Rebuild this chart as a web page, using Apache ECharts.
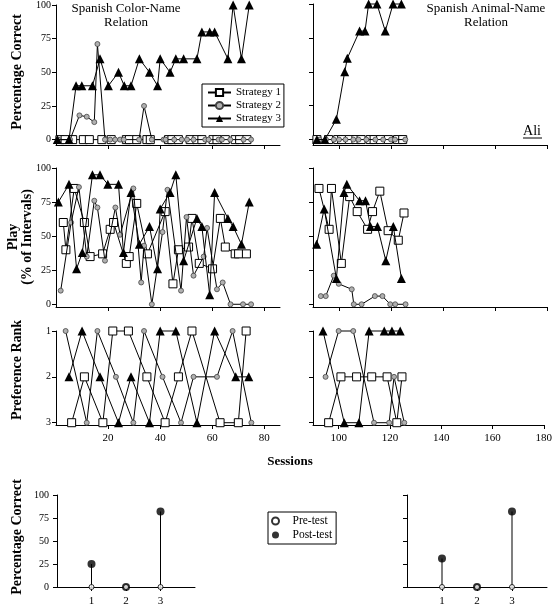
<!DOCTYPE html>
<html><head><meta charset="utf-8">
<script src="https://cdn.jsdelivr.net/npm/echarts@6/dist/echarts.min.js"></script>
<style>html,body{margin:0;padding:0;background:#fff}#c{width:555px;height:607px}</style>
</head><body><div id="c"></div>
<script>
// ---------- DATA ----------
const sessionTicksLeft = [20, 40, 60, 80];
const sessionTicksRight = [100, 120, 140, 160, 180];
const pctTicks = [0, 25, 50, 75, 100];
const rankTicks = [1, 2, 3];
const testTicks = [1, 2, 3];

// Percentage correct – Color-Name (sessions, %)
const colorS1 = [[1.5,0],[3.5,0],[6.4,0],[10.5,0],[12.8,0],[17.6,0],[21.2,0],[27,0],[28.2,0],[31,0],[34.9,0],[36.2,0],[43.2,0],[44.5,0],[47,0],[51.5,0],[54.1,0],[56,0],[60.3,0],[61.8,0],[65,0],[68.8,0],[70.5,0],[73.3,0]];
const colorS2 = [[1,0],[5.4,0],[9,18],[11.8,17],[14.7,13],[15.9,71],[18.8,0],[20.8,0],[22.7,0],[24.6,0],[26,0],[31.9,0],[33.8,25],[36.8,0],[41.3,0],[42,0],[45.4,0],[48.3,0],[50.3,0],[52.8,0],[57.3,0],[58.6,0],[62.4,0],[63.7,0],[66.9,0],[72,0],[74.9,0]];
const colorS3 = [[0.5,0],[5,0],[7.7,40],[9.9,40],[14,40],[16.9,60],[20.1,40],[24,50],[26.2,40],[28.8,40],[32,60],[35.9,50],[39,40],[40,60],[43.8,50],[46,60],[49,60],[54.1,60],[56,80],[59,80],[60.9,80],[66,60],[68,100],[71.2,60],[74.2,100]];
// Percentage correct – Animal-Name
const animalS1 = [[91.5,0],[96,0],[99.5,0],[101,0],[104,0],[106.5,0],[108.5,0],[112,0],[113.5,0],[116,0],[119,0],[122.5,0],[124.5,0]];
const animalS2 = [[92.5,0],[95,0],[98,0],[100,0],[102.5,0],[105.5,0],[107.5,0],[110.5,0],[114,0],[117,0],[120,0],[121.5,0],[125.5,0]];
const animalS3 = [[91.5,0],[94.6,0],[99,15],[102.2,50],[103.2,60],[107.9,80],[110,80],[111.4,100],[114.6,100],[117.8,80],[120.8,100],[124,100]];

// Play (% of intervals)
const playColorS1 = [[2.8,60],[3.8,40],[7,85],[10.9,60],[13.1,35],[17.9,37],[20.8,55],[22.1,60],[27,30],[28.1,35],[31,74],[35.1,37],[41.9,68],[44.9,15],[47,40],[50.9,42],[52.2,63],[55,30],[60.1,26],[63.1,63],[65,42],[68.8,37],[70.1,37],[73.1,37]];
const playColorS2 = [[1.8,10],[5.8,60],[8.8,86],[11.8,35],[14.7,76],[15.9,71],[18.8,32],[22.8,71],[24.6,51],[29.7,85],[32.7,16],[33.8,43],[36.8,0],[40.9,53],[42.8,84],[48,10],[50.1,64],[52.8,21],[56.7,35],[58,56],[61.8,11],[64,16],[67,0],[71.8,0],[74.9,0]];
const playColorS3 = [[0.9,75],[5,88],[7.9,26],[10.1,38],[14,95],[16.9,95],[19.9,88],[24,88],[25.9,38],[28.8,82],[32,44],[35.9,57],[39,26],[40,70],[43.8,82],[46,95],[49,32],[54.1,63],[56,57],[59,7],[60.9,82],[66,63],[68,57],[71.2,44],[74.2,75]];
const playAnimalS1 = [[92.3,85],[96.2,55],[97.1,85],[100.9,30],[104.1,79],[107,68],[111,55],[112.9,68],[115.7,83],[118.9,54],[122.8,47],[125,67]];
const playAnimalS2 = [[93,6],[94.9,6],[98,21],[99.9,15],[104.9,11],[105.7,0],[108.7,0],[113.8,6],[116.7,6],[119.7,0],[121.6,0],[125.6,0]];
const playAnimalS3 = [[91.4,44],[94.3,70],[99,19],[101.9,82],[103,88],[107.9,76],[110.2,76],[112.1,57],[114.8,57],[118,32],[120.9,57],[124,19]];

// Preference rank
const rankColorS1 = [[6,3],[10.9,2],[18,3],[21.8,1],[27.8,1],[34.9,2],[41.9,3],[47,2],[52.2,1],[63,3],[70,3],[73,1]];
const rankColorS2 = [[3.7,1],[11.8,3],[15.9,1],[23,2],[29.7,3],[33.8,1],[40.9,2],[48,3],[52.8,2],[61.8,2],[67.8,1],[75,3]];
const rankColorS3 = [[5,2],[10,1],[16.9,2],[24,3],[28.8,2],[35.9,3],[40,1],[46,1],[54.1,3],[60.9,1],[69,2],[74,2]];
const rankAnimalS1 = [[96.1,3],[100.9,2],[107,2],[112.9,2],[118.9,2],[122.7,3],[124.7,2]];
const rankAnimalS2 = [[94.9,2],[100,1],[105.7,1],[113.8,3],[119.7,3],[121.6,2],[125.6,3]];
const rankAnimalS3 = [[93.9,1],[102.2,3],[107.9,3],[111.9,1],[117.8,1],[120.8,1],[124,1]];

// Pre/post tests (% correct) for tests 1-3
const testNumbers = [1, 2, 3];
const preColor = [0, 0, 0];
const postColor = [25, 0, 82];
const preAnimal = [0, 0, 0];
const postAnimal = [31, 0, 82];

// ---------- CHART ----------
const FONT = '"Liberation Serif", "DejaVu Serif", serif';
const chart = echarts.init(document.getElementById('c'));

const grids = [
  {left: 56, top: 4, width: 224, height: 141},
  {left: 313, top: 4, width: 234, height: 141},
  {left: 56, top: 168, width: 224, height: 139},
  {left: 313, top: 168, width: 234, height: 139},
  {left: 56, top: 331, width: 224, height: 94},
  {left: 313, top: 331, width: 234, height: 94},
  {left: 57, top: 495, width: 138, height: 93},
  {left: 407, top: 495, width: 140, height: 93}
];

const axLine = {show: true, onZero: false, lineStyle: {color: '#000', width: 1}};
function xAx(i, min, max, ticks, showLabels) {
  return {type: 'value', gridIndex: i, min: min, max: max, splitLine: {show: false},
    axisLine: axLine,
    axisTick: {show: true, length: 4, customValues: ticks, lineStyle: {color: '#000'}},
    axisLabel: {show: showLabels, customValues: ticks, margin: 8, fontFamily: FONT, fontSize: 11, color: '#000'}};
}
function yAx(i, min, max, ticks, showLabels, inverse) {
  return {type: 'value', gridIndex: i, min: min, max: max, inverse: !!inverse, splitLine: {show: false},
    axisLine: axLine,
    axisTick: {show: true, length: 4, customValues: ticks, lineStyle: {color: '#000'}},
    axisLabel: {show: showLabels, customValues: ticks, margin: 5, fontFamily: FONT, fontSize: 10, color: '#000'}};
}

const xAxes = [
  xAx(0, 0, 86, sessionTicksLeft, false), xAx(1, 90, 180, sessionTicksRight, false),
  xAx(2, 0, 86, sessionTicksLeft, false), xAx(3, 90, 180, sessionTicksRight, false),
  xAx(4, 0, 86, sessionTicksLeft, true), xAx(5, 90, 180, sessionTicksRight, true),
  xAx(6, 0, 4, testTicks, true), xAx(7, 0, 4, testTicks, true)
];
const yAxes = [
  yAx(0, -4, 100, pctTicks, true), yAx(1, -4, 100, pctTicks, false),
  yAx(2, -2, 100, pctTicks, true), yAx(3, -2, 100, pctTicks, false),
  yAx(4, 1, 3.05, rankTicks, true, true), yAx(5, 1, 3.05, rankTicks, false, true),
  yAx(6, 0, 100, pctTicks, true), yAx(7, 0, 100, pctTicks, false)
];
xAxes[6].axisLabel.margin = 9; xAxes[7].axisLabel.margin = 9;
yAxes[6].axisLabel.margin = 8;

const styles = {
  'Strategy 1': {symbol: 'rect', symbolSize: 8, itemStyle: {color: '#fff', borderColor: '#000', borderWidth: 1}, z: 3},
  'Strategy 2': {symbol: 'circle', symbolSize: 5, itemStyle: {color: '#b0b0b0', borderColor: '#444', borderWidth: 0.8}, z: 4},
  'Strategy 3': {symbol: 'triangle', symbolSize: 9, itemStyle: {color: '#000', borderColor: '#000', borderWidth: 0}, z: 5}
};
function ln(name, idx, data) {
  const s = styles[name];
  return {type: 'line', name: name, xAxisIndex: idx, yAxisIndex: idx, data: data,
    symbol: s.symbol, symbolSize: s.symbolSize, showSymbol: true, itemStyle: s.itemStyle,
    lineStyle: {color: '#000', width: 1}, z: s.z, clip: false, animation: false};
}

const series = [
  ln('Strategy 1', 0, colorS1), ln('Strategy 2', 0, colorS2), ln('Strategy 3', 0, colorS3),
  ln('Strategy 1', 1, animalS1), ln('Strategy 2', 1, animalS2), ln('Strategy 3', 1, animalS3),
  ln('Strategy 1', 2, playColorS1), ln('Strategy 2', 2, playColorS2), ln('Strategy 3', 2, playColorS3),
  ln('Strategy 1', 3, playAnimalS1), ln('Strategy 2', 3, playAnimalS2), ln('Strategy 3', 3, playAnimalS3),
  ln('Strategy 1', 4, rankColorS1), ln('Strategy 2', 4, rankColorS2), ln('Strategy 3', 4, rankColorS3),
  ln('Strategy 1', 5, rankAnimalS1), ln('Strategy 2', 5, rankAnimalS2), ln('Strategy 3', 5, rankAnimalS3)
];

function stemSeries(idx, pre, post) {
  const postData = testNumbers.map((t, k) => [t, post[k]]);
  const preData = testNumbers.map((t, k) => [t, pre[k]]);
  return [
    {type: 'bar', name: 'stem', xAxisIndex: idx, yAxisIndex: idx, data: postData, barWidth: 1,
      itemStyle: {color: '#000'}, animation: false, z: 1},
    {type: 'scatter', name: 'Post-test', xAxisIndex: idx, yAxisIndex: idx, data: postData, symbol: 'circle', symbolSize: 8,
      itemStyle: {color: '#000'}, z: 3, clip: false, animation: false},
    {type: 'scatter', name: 'Pre-test', xAxisIndex: idx, yAxisIndex: idx, data: preData, symbol: 'circle', symbolSize: 5,
      itemStyle: {color: '#fff', borderColor: '#000', borderWidth: 1}, z: 4, clip: false, animation: false}
  ];
}
series.push(...stemSeries(6, preColor, postColor));
series.push(...stemSeries(7, preAnimal, postAnimal));

function vtext(x, y, text, size) {
  return {type: 'text', x: x, y: y, rotation: Math.PI / 2,
    style: {text: text, font: 'bold ' + size + 'px ' + FONT, fill: '#000', align: 'center', verticalAlign: 'middle'}};
}
function htext(x, y, text, size, bold) {
  return {type: 'text', x: x, y: y,
    style: {text: text, font: (bold ? 'bold ' : '') + size + 'px ' + FONT, fill: '#000', align: 'center', verticalAlign: 'middle'}};
}

const option = {
  animation: false,
  backgroundColor: '#fff',
  grid: grids,
  xAxis: xAxes,
  yAxis: yAxes,
  legend: [
    {data: ['Strategy 1', 'Strategy 2', 'Strategy 3'], orient: 'vertical', left: 202, top: 84,
      itemWidth: 23, itemHeight: 9, itemGap: 2, padding: [3, 3, 3, 5],
      borderColor: '#000', borderWidth: 1, backgroundColor: '#fff', selectedMode: false,
      textStyle: {fontFamily: FONT, fontSize: 11, color: '#000', lineHeight: 11}},
    {data: ['Pre-test', 'Post-test'], orient: 'vertical', left: 268, top: 512,
      itemWidth: 10, itemHeight: 7, itemGap: 2, padding: [3, 4, 3, 3], icon: 'circle',
      borderColor: '#000', borderWidth: 1, backgroundColor: '#fff', selectedMode: false,
      textStyle: {fontFamily: FONT, fontSize: 11.5, color: '#000', lineHeight: 10, padding: [0, 0, 0, 7]}}
  ],
  graphic: [
    vtext(17, 72, 'Percentage Correct', 14),
    vtext(13, 237, 'Play', 14),
    vtext(27, 237, '(% of Intervals)', 14),
    vtext(17, 370, 'Preference Rank', 14),
    vtext(17, 537, 'Percentage Correct', 14),
    htext(290, 462, 'Sessions', 13, true),
    htext(126, 9, 'Spanish Color-Name', 13),
    htext(126, 23, 'Relation', 13),
    htext(486, 9, 'Spanish Animal-Name', 13),
    htext(486, 23, 'Relation', 13),
    htext(532, 131, 'Ali', 14),
    {type: 'line', shape: {x1: 523, y1: 138, x2: 542, y2: 138}, style: {stroke: '#000', lineWidth: 1}}
  ],
  series: series
};
chart.setOption(option);
</script>
</body></html>
